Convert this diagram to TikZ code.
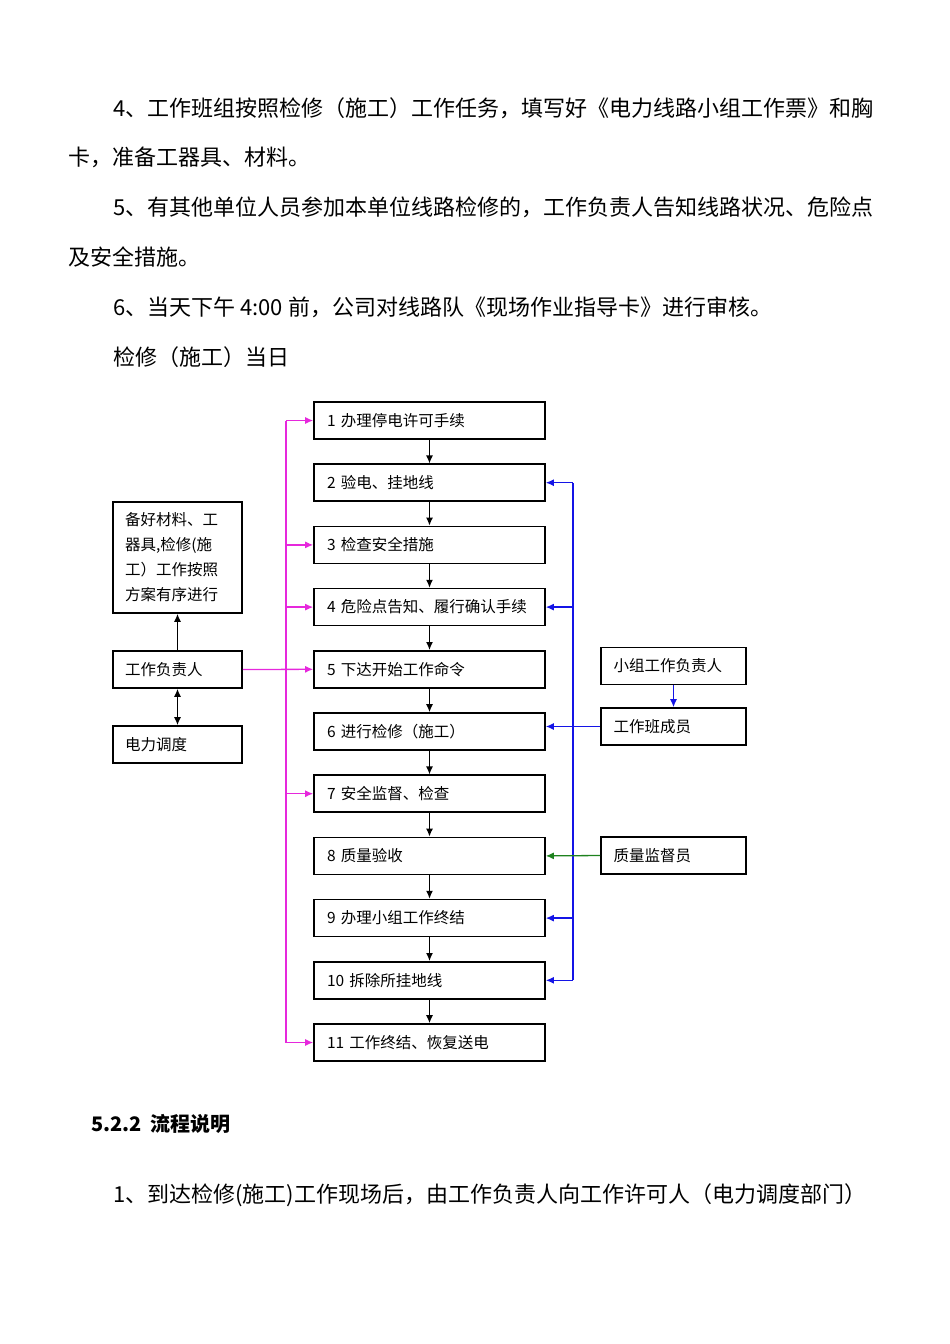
\documentclass[tikz,border=0pt]{standalone}
\usepackage{fontspec}
\setmainfont{Noto Sans CJK SC}
\usetikzlibrary{arrows.meta}
\begin{document}
\begin{tikzpicture}[x=1pt,y=-1pt,
  para/.style={anchor=west,inner sep=0,font=\fontsize{22}{26}\selectfont},
  box/.style={draw,line width=1.6pt,minimum height=37pt,inner sep=0},
  stepbox/.style={box,minimum width=231pt,text width=205pt,align=left,font=\fontsize{15.5}{18}\selectfont},
  sidebox/.style={box,minimum width=129pt,text width=105pt,align=left,font=\fontsize{15.5}{18}\selectfont},
  rbox/.style={box,minimum width=145pt,text width=120pt,align=left,font=\fontsize{15.5}{18}\selectfont},
  ar/.style={-{Latex[length=8pt,width=7pt]},line width=1.3pt},
  mg/.style={ar,draw={rgb,255:red,230;green,40;blue,220}},
  bl/.style={ar,draw={rgb,255:red,20;green,20;blue,230}},
  gr/.style={ar,draw={rgb,255:red,30;green,130;blue,30}}]
\useasboundingbox (0,0) rectangle (950,1344);
\node[para] (p1) at (113,108) {4、工作班组按照检修（施工）工作任务，填写好《电力线路小组工作票》和胸};
\node[para] (p2) at (68,157) {卡，准备工器具、材料。};
\node[para] (p3) at (113,207) {5、有其他单位人员参加本单位线路检修的，工作负责人告知线路状况、危险点};
\node[para] (p4) at (68,257) {及安全措施。};
\node[para] (p5) at (113,307) {6、当天下午 4:00 前，公司对线路队《现场作业指导卡》进行审核。};
\node[para] (p6) at (113,357) {检修（施工）当日};
\node[para,font=\fontsize{20}{24}\selectfont\bfseries] (p7) at (91,1124) {5.2.2\ \ 流程说明};
\node[para] (p8) at (113,1195) {1、到达检修(施工)工作现场后，由工作负责人向工作许可人（电力调度部门）};

\foreach \i/\t in {1/办理停电许可手续,2/验电、挂地线,3/检查安全措施,4/危险点告知、履行确认手续,5/下达开始工作命令,6/进行检修（施工）,7/安全监督、检查,8/质量验收,9/办理小组工作终结,10/拆除所挂地线,11/工作终结、恢复送电}
  \node[stepbox] (s\i) at (429.5,{420.5+62.2*(\i-1)}) {\i\ \t};
\foreach \i [evaluate=\i as \j using int(\i+1)] in {1,...,10}
  \draw[ar] (s\i) -- (s\j);

\node[sidebox,minimum height=111pt,font=\fontsize{15.5}{25}\selectfont] (prep) at (177.5,557.5) {备好材料、工\\器具,检修(施\\工）工作按照\\方案有序进行};
\node[sidebox] (lead) at (177.5,669.5) {工作负责人};
\node[sidebox] (disp) at (177.5,744.5) {电力调度};
\draw[ar] (lead) -- (prep);
\draw[ar,{Latex[length=8pt,width=7pt]}-{Latex[length=8pt,width=7pt]}] (lead) -- (disp);

\node[rbox] (grp) at (673.5,666) {小组工作负责人};
\node[rbox] (crew) at (673.5,726.5) {工作班成员};
\node[rbox] (qa) at (673.5,855.5) {质量监督员};

\coordinate (mtop) at (286,420.5);
\coordinate (mbot) at (286,1042.5);
\draw[mg,-] (mtop) -- (mbot);
\foreach \i in {1,3,4,7,11} \draw[mg] (286,{420.5+62.2*(\i-1)}) -- (s\i.west);
\draw[mg] (lead.east) -- (s5.west);

\draw[bl,-] (573,483) -- (573,980);
\foreach \i in {2,4,9,10} \draw[bl] (573,{420.5+62.2*(\i-1)}) -- (s\i.east);
\draw[bl] (crew.west) -- (s6.east |- crew.west);
\draw[bl] (grp) -- (crew);
\draw[gr] (qa.west) -- (s8.east);
\end{tikzpicture}
\end{document}
